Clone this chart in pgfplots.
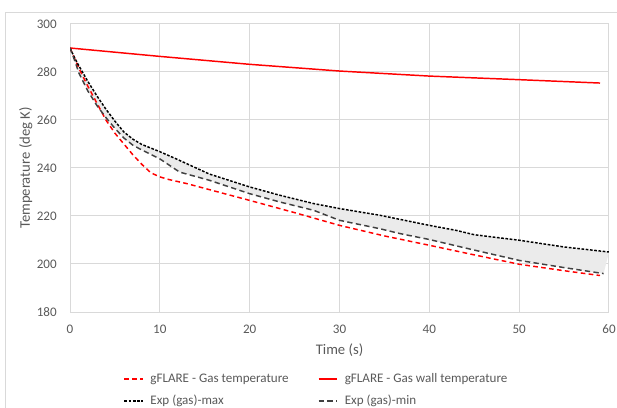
\documentclass[border=0pt]{standalone}
\usepackage{fontspec}
\setmainfont{Carlito}
\usepackage{pgfplots}
\pgfplotsset{compat=1.18}
\usepgfplotslibrary{fillbetween}
\definecolor{txt}{HTML}{595959}
\definecolor{gridc}{HTML}{D9D9D9}
\definecolor{band}{HTML}{EBEBEB}
\begin{document}
\begin{tikzpicture}
\begin{axis}[
  at={(52.5pt,71.25pt)}, anchor=south west,
  scale only axis, width=404.25pt, height=216pt,
  xmin=0, xmax=60, ymin=180, ymax=300,
  xtick={0,10,...,60}, ytick={180,200,...,300},
  grid=major, grid style={gridc, line width=0.75pt},
  axis line style={draw=none},
  major tick length=0pt,
  /pgf/number format/assume math mode=true,
  ticklabel style={inner sep=0pt, text=txt, font=\fontsize{9.8}{12}\selectfont},
  xticklabel style={anchor=center, yshift=-12.75pt},
  yticklabel style={anchor=east, xshift=-9.75pt},
  xlabel={Time (s)}, ylabel={Temperature (deg K)},
  xlabel style={at={(axis description cs:0.5,-0.132)}, anchor=center, text=txt, font=\fontsize{11}{13}\selectfont},
  ylabel style={at={(axis description cs:-0.082,0.5)}, anchor=center, text=txt, font=\fontsize{11}{13}\selectfont},
  legend columns=2,
  legend cell align=left,
  legend style={at={(axis description cs:0.099,-0.203)}, anchor=north west, draw=none, fill=none, inner sep=0pt,
    font=\fontsize{9.8}{12}\selectfont, row sep=4pt,
    /tikz/every odd column/.append style={column sep=3pt},
    /tikz/every even column/.append style={column sep=20pt}},
  legend image code/.code={\draw[#1] (0pt,0pt) -- (14pt,0pt);},
]
\addplot[red, line width=1.1pt, dash pattern=on 3.5pt off 2.5pt] coordinates {
(0,290) (1,281.5) (2,274) (3,267) (4,260) (5,254.5) (6,250) (7,245.5) (8,241.5) (9,238) (10,236.3)
(11,235.2) (13,233.5) (16,230.5) (20,226.5) (25,221.4) (30,216.1) (35,211.7) (40,207.8) (45,203.8)
(50,199.9) (55,197.2) (59,195.2)};
\addlegendentry{\textcolor{txt}{gFLARE - Gas temperature}}
\addplot[red, line width=1.1pt] coordinates {
(0,290) (10,286.5) (20,283.2) (30,280.4) (40,278.3) (50,276.8) (59,275.4)};
\addlegendentry{\textcolor{txt}{gFLARE - Gas wall temperature}}
\addplot[name path=max, black, line width=1.1pt, dash pattern=on 2pt off 1.2pt] coordinates {
(0,290) (0.5,286) (1,282.5) (2,276) (3,270) (4,264.5) (5,259.5) (6,255) (7,252) (8,249.8) (10,246.8)
(12,243.5) (15.5,237.5) (20,232.1) (23.4,228.6) (27.1,225.2) (30,223.1) (34.5,220.3) (40,216.1)
(43,214) (45,212.2) (50,209.9) (55,207.1) (60,205)};
\addlegendentry{\textcolor{txt}{Exp (gas)-max}}
\addplot[name path=min, black!75, line width=1.1pt, dash pattern=on 4pt off 2.5pt] coordinates {
(0,290) (0.5,285) (1,279.5) (2,272) (3,266) (4,261) (5,256.5) (6,252.5) (7,249.5) (8,247.5) (10,243.8)
(12.2,238.3) (15.5,234.9) (20,229.3) (23.4,225.8) (27.1,222.4) (30,218.2) (34.5,214.7) (36.7,212.7)
(40,210.2) (45,205.8) (50,201.5) (55,198.5) (59.4,196)};
\addlegendentry{\textcolor{txt}{Exp (gas)-min}}
\addplot[band, draw=none, forget plot] fill between[of=max and min];
\end{axis}
\draw[gridc, line width=0.75pt] (3.75pt,-20pt) rectangle (480pt,295.5pt);
\pgfresetboundingbox
\useasboundingbox (0,0) rectangle (462.75pt,305.25pt);
\end{tikzpicture}
\end{document}
